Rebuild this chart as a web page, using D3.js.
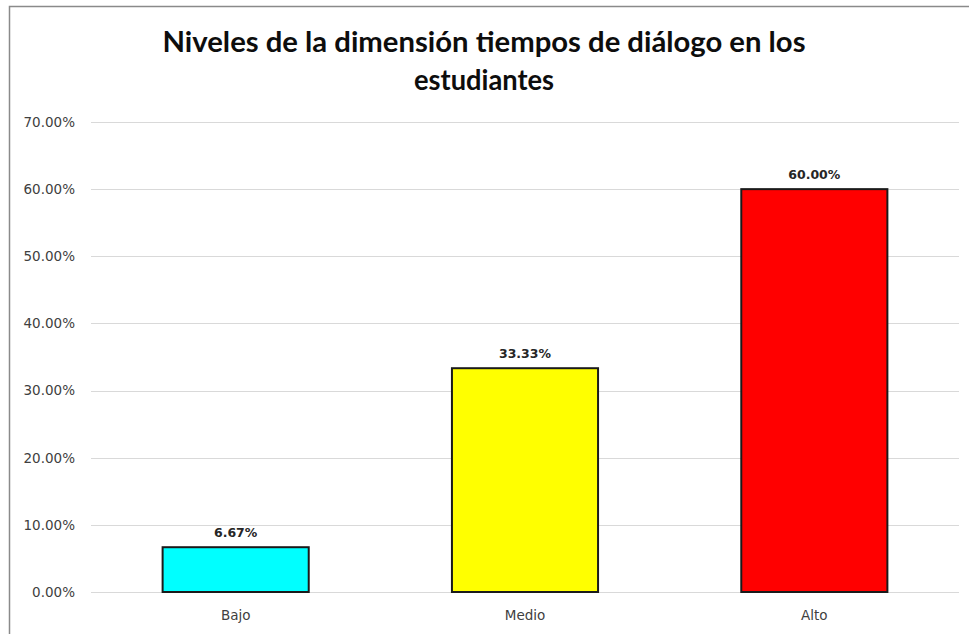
<!DOCTYPE html>
<html><head><meta charset="utf-8">
<script src="https://cdn.jsdelivr.net/npm/d3@7"></script>
<style>body{margin:0;background:#fff}svg{display:block}</style>
</head><body>
<svg id="c" width="969" height="634"></svg>
<script>
const categories = ["Bajo", "Medio", "Alto"];
const values = [6.67, 33.33, 60.00];
const colors = ["#00FFFF", "#FFFF00", "#FF0000"];
const yTicks = [0, 10, 20, 30, 40, 50, 60, 70];
const titleLines = ["Niveles de la dimensión tiempos de diálogo en los", "estudiantes"];

const svg = d3.select("#c");
const W = 969, H = 634;
const m = {left: 91, right: 10, top: 122, bottom: 42};

svg.append("rect").attr("x",0).attr("y",0).attr("width",W).attr("height",H).attr("fill","#fff");
svg.append("path").attr("d","M9.5,634 V6.5 H969").attr("fill","none").attr("stroke","#8a8a8a").attr("stroke-width",1.5);

const x = d3.scaleBand().domain(categories).range([m.left, W - m.right]).paddingInner(0.495).paddingOuter(0.2475);
const y = d3.scaleLinear().domain([0, 70]).range([H - m.bottom, m.top]);

svg.append("g").selectAll("line").data(yTicks).join("line")
  .attr("x1", m.left).attr("x2", W - m.right)
  .attr("y1", d => Math.round(y(d)) + 0.5).attr("y2", d => Math.round(y(d)) + 0.5)
  .attr("stroke", "#d9d9d9").attr("stroke-width", 1);

const yAxis = d3.axisLeft(y).tickValues(yTicks).tickSize(0).tickPadding(0)
  .tickFormat(d => d.toFixed(2) + "%");
const ga = svg.append("g").attr("transform", `translate(${m.left - 16},0)`).call(yAxis);
ga.select(".domain").remove();
ga.selectAll("text").attr("font-family","DejaVu Sans, Verdana, sans-serif").attr("font-size","13.5px").attr("fill","#404040");

svg.append("g").selectAll("rect").data(values).join("rect")
  .attr("x", (d,i) => x(categories[i]))
  .attr("y", d => y(d))
  .attr("width", x.bandwidth())
  .attr("height", d => y(0) - y(d))
  .attr("fill", (d,i) => colors[i])
  .attr("stroke", "#1a1a1a").attr("stroke-width", 2);

svg.append("g").selectAll("text").data(values).join("text")
  .attr("x", (d,i) => x(categories[i]) + x.bandwidth()/2)
  .attr("y", d => y(d) - 10)
  .attr("text-anchor", "middle")
  .attr("font-family","DejaVu Sans, Verdana, sans-serif").attr("font-size","12.5px").attr("font-weight","bold").attr("fill","#262626")
  .text(d => d.toFixed(2) + "%");

const xAxis = d3.axisBottom(x).tickSize(0).tickPadding(0);
const gx = svg.append("g").attr("transform", `translate(0,${y(0) + 28})`).call(xAxis);
gx.select(".domain").remove();
gx.selectAll("text").attr("dy", 0).attr("font-family","DejaVu Sans, Verdana, sans-serif").attr("font-size","13.5px").attr("fill","#404040");

const tg = svg.append("g");
const tBase = [52, 90];
titleLines.forEach((t, i) => {
  tg.append("text")
    .attr("x", 484).attr("y", tBase[i]).attr("text-anchor", "middle")
    .attr("font-family", "Lato, 'Open Sans', sans-serif").attr("font-weight", "bold")
    .attr("font-size", "28px").attr("fill", "#0d0d0d").text(t);
});
const targetW = [643, 140];
tg.selectAll("text").each(function(d, i) {
  const w = this.getComputedTextLength();
  if (w > 0) {
    d3.select(this).attr("textLength", targetW[i]).attr("lengthAdjust", "spacingAndGlyphs");
  }
});
</script>
</body></html>
